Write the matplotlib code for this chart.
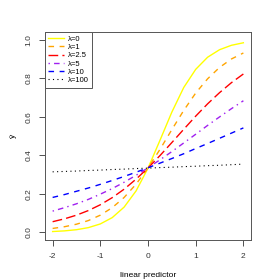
import matplotlib
matplotlib.use("Agg")
import matplotlib.pyplot as plt

plt.rcParams['font.family'] = ['Liberation Sans', 'DejaVu Sans']

x = [-2, -1.75, -1.5, -1.25, -1, -0.75, -0.5, -0.25, 0, 0.25, 0.5, 0.75, 1, 1.25, 1.5, 1.75, 2]

y_lam0 = [0.004, 0.0074, 0.0135, 0.0243, 0.0434, 0.0763, 0.131, 0.215, 0.333,
          0.477, 0.624, 0.752, 0.846, 0.909, 0.948, 0.971, 0.984]
y_lam1 = [0.020, 0.029, 0.042, 0.061, 0.089, 0.128, 0.181, 0.250, 0.334,
          0.430, 0.533, 0.633, 0.723, 0.797, 0.856, 0.900, 0.931]
y_lam2_5 = [0.055, 0.070, 0.089, 0.113, 0.143, 0.180, 0.224, 0.276, 0.334,
            0.398, 0.466, 0.535, 0.603, 0.667, 0.725, 0.777, 0.822]
y_lam5 = [0.110, 0.128, 0.148, 0.171, 0.198, 0.227, 0.260, 0.296, 0.335,
          0.376, 0.419, 0.464, 0.509, 0.555, 0.599, 0.642, 0.683]
y_lam10 = [0.181, 0.196, 0.213, 0.230, 0.249, 0.269, 0.290, 0.312, 0.335,
           0.359, 0.383, 0.408, 0.435, 0.461, 0.488, 0.515, 0.542]
y_lam100 = [0.314, 0.316, 0.318, 0.321, 0.323, 0.326, 0.328, 0.331, 0.333,
            0.336, 0.338, 0.341, 0.343, 0.346, 0.348, 0.351, 0.354]

labels = ["λ=0", "λ=1", "λ=2.5", "λ=5", "λ=10", "λ=100"]
series = [y_lam0, y_lam1, y_lam2_5, y_lam5, y_lam10, y_lam100]
colors = ["#FFFF00", "#FFA500", "#FF0000", "#A020F0", "#0000FF", "#000000"]
dashes = [None, (4, 4), (7, 3), (1, 3, 4, 3), (4, 4), (1, 3)]

fig = plt.figure(figsize=(2.8, 2.8), dpi=100)
ax = fig.add_axes([45/280, 1-240/280, 206/280, 208/280])

for ys, lab, c, d in zip(series, labels, colors, dashes):
    lw = 0.8 if c == "#000000" else 1.0
    line, = ax.plot(x, ys, color=c, lw=lw, label=lab)
    if d is not None:
        line.set_dashes(d)

ax.set_xlim(-2.16, 2.16)
ax.set_ylim(-0.04, 1.04)
ax.set_xticks([-2, -1, 0, 1, 2])
ax.set_xticklabels(["-2", "-1", "0", "1", "2"])
ax.set_yticks([0.0, 0.2, 0.4, 0.6, 0.8, 1.0])
ax.set_yticklabels(["0.0", "0.2", "0.4", "0.6", "0.8", "1.0"], rotation=90, va='center')
ax.tick_params(direction='out', length=4, width=0.6, labelsize=6, pad=5, colors='#333333')
for sp in ax.spines.values():
    sp.set_linewidth(0.7)
    sp.set_color('#555555')

ax.set_xlabel("linear predictor", fontsize=6, labelpad=9)
ax.set_ylabel("ŷ", fontsize=6, labelpad=6)

leg = ax.legend(loc='upper left', fontsize=5.5, frameon=True, fancybox=False,
                borderaxespad=0, handlelength=2.0, handletextpad=0.5,
                labelspacing=0.12, borderpad=0.45, framealpha=1)
leg.get_frame().set_edgecolor('#555555')
leg.get_frame().set_linewidth(0.7)

fig.savefig("out.png", dpi=100)
